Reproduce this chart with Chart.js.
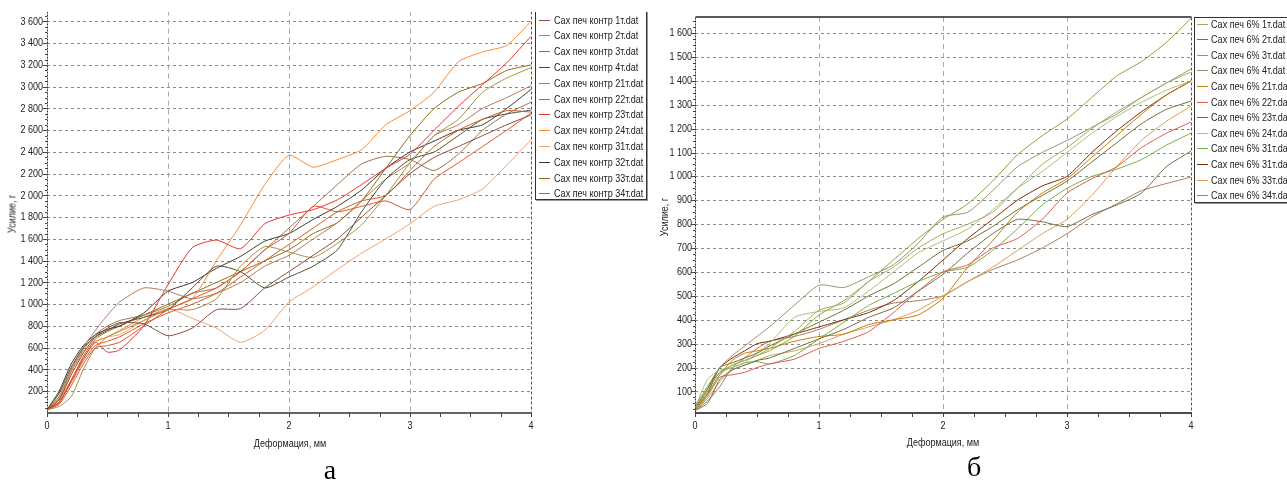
<!DOCTYPE html>
<html>
<head>
<meta charset="utf-8">
<script src="https://cdn.jsdelivr.net/npm/chart.js@4/dist/chart.umd.min.js"></script>
<style>
  html, body { margin: 0; padding: 0; background: #fff; }
  body { width: 1287px; height: 486px; overflow: hidden; position: relative; }
  canvas { position: absolute; }
  .txt { position: absolute; font-family: 'Liberation Sans', Arial, sans-serif;
         font-size: 11px; color: #222; white-space: nowrap; line-height: 1; }
  .ytitle { transform: translate(-50%, -50%) rotate(-90deg) scaleX(0.82); }
  .xtitle { transform: translate(-50%, -50%) scaleX(0.82); }
  .legend { position: absolute; background: #fff; border: 1px solid #333; box-shadow: 1px 1px 0 #999; overflow: hidden; }
  .legend .sw { position: absolute; width: 11px; height: 0; border-top: 1px solid; }
  .legend .nm { position: absolute; transform-origin: 0 50%; transform: translateY(-50%) scaleX(0.82); }
  .cap { position: absolute; font-family: 'Liberation Serif', 'DejaVu Serif', serif; font-size: 28px; color: #000;
         transform: translate(-50%, -50%); line-height: 1; }
  .cover { position: absolute; left: 0; top: 0; width: 650px; height: 12px; background: #fff; z-index: 5; }
</style>
</head>
<body>
<canvas id="chartA" width="540" height="460" style="left:0;top:0"></canvas>
<canvas id="chartB" width="550" height="460" style="left:650px;top:0"></canvas>

<script>
// Deformation (mm) sample points shared by every curve
const xs = [0, 0.1, 0.2, 0.3, 0.4, 0.5, 0.6, 0.8, 1.0, 1.2, 1.4, 1.6, 1.8, 2.0, 2.2, 2.4, 2.6, 2.8, 3.0, 3.2, 3.4, 3.6, 3.8, 4.0];

// --- control samples, force in g ---
const ctrl1  = [30, 120, 350, 550, 700, 780, 830, 820, 710, 780, 950, 960, 1150, 1300, 1450, 1600, 1800, 2000, 2200, 2350, 2450, 2550, 2650, 2740];
const ctrl2  = [30, 60, 150, 400, 600, 700, 750, 850, 950, 950, 1050, 1350, 1530, 1480, 1430, 1560, 1730, 2000, 2300, 2550, 2700, 2950, 3080, 3175];
const ctrl3  = [30, 100, 280, 480, 620, 660, 700, 820, 920, 1000, 1100, 1250, 1400, 1550, 1700, 1850, 1950, 2000, 2230, 2450, 2600, 2700, 2780, 2767];
const ctrl4  = [30, 180, 420, 600, 700, 760, 820, 880, 950, 1150, 1350, 1300, 1150, 1250, 1350, 1500, 1850, 2150, 2330, 2400, 2550, 2700, 2750, 2785];
const ctrl21 = [30, 150, 400, 600, 760, 900, 1020, 1150, 1120, 1050, 1100, 1200, 1350, 1450, 1600, 1750, 1950, 2150, 2300, 2550, 2650, 2800, 2900, 3010];
const ctrl22 = [30, 80, 250, 450, 600, 620, 650, 800, 950, 1050, 1150, 1300, 1500, 1650, 1900, 1850, 1900, 1950, 1870, 2150, 2300, 2450, 2600, 2757];
const ctrl23 = [30, 100, 300, 500, 650, 560, 580, 800, 1180, 1520, 1590, 1510, 1740, 1820, 1870, 1960, 2100, 2250, 2380, 2600, 2820, 3020, 3220, 3463];
const ctrl24 = [30, 150, 380, 560, 660, 700, 760, 880, 960, 1050, 1400, 1730, 2100, 2370, 2260, 2330, 2420, 2650, 2780, 2950, 3230, 3320, 3380, 3600];
const ctrl31 = [30, 120, 300, 500, 650, 700, 720, 850, 960, 870, 780, 650, 760, 1020, 1160, 1320, 1470, 1600, 1740, 1900, 1960, 2060, 2280, 2510];
const ctrl32 = [30, 200, 450, 620, 720, 770, 800, 920, 1120, 1200, 1330, 1440, 1580, 1650, 1780, 1900, 2050, 2250, 2400, 2500, 2600, 2650, 2800, 2975];
const ctrl33 = [30, 90, 300, 520, 680, 750, 800, 900, 1000, 1100, 1200, 1300, 1400, 1500, 1650, 1750, 1950, 2250, 2550, 2800, 2950, 3030, 3150, 3200];
const ctrl34 = [30, 130, 380, 580, 720, 800, 850, 900, 980, 1100, 1150, 1300, 1500, 1700, 1900, 2100, 2290, 2360, 2330, 2230, 2380, 2600, 2750, 2857];

const ctrlNames = ['Сах печ контр 1т.dat', 'Сах печ контр 2т.dat', 'Сах печ контр 3т.dat', 'Сах печ контр 4т.dat',
                   'Сах печ контр 21т.dat', 'Сах печ контр 22т.dat', 'Сах печ контр 23т.dat', 'Сах печ контр 24т.dat',
                   'Сах печ контр 31т.dat', 'Сах печ контр 32т.dat', 'Сах печ контр 33т.dat', 'Сах печ контр 34т.dat'];
const ctrlColors = ['#8B4A3A', '#A89040', '#D2591E', '#4F4F34', '#B5785A', '#E8502A',
                    '#F03030', '#FF8A30', '#F4A070', '#3A3A30', '#8C7010', '#A0704A'];
const ctrlSeries = [ctrl1, ctrl2, ctrl3, ctrl4, ctrl21, ctrl22, ctrl23, ctrl24, ctrl31, ctrl32, ctrl33, ctrl34];

// --- 6% samples, force in g ---
const s6_1   = [20, 80, 170, 210, 230, 250, 280, 350, 440, 470, 560, 620, 700, 760, 800, 850, 950, 1050, 1120, 1200, 1270, 1330, 1390, 1437];
const s6_2   = [20, 50, 150, 190, 210, 230, 240, 280, 320, 360, 410, 450, 520, 590, 680, 760, 820, 810, 790, 840, 880, 930, 1040, 1106];
const s6_3   = [20, 110, 180, 210, 230, 250, 270, 330, 420, 480, 560, 650, 740, 820, 885, 980, 1090, 1170, 1240, 1330, 1420, 1480, 1560, 1661];
const s6_4   = [40, 120, 200, 250, 290, 330, 370, 460, 545, 535, 580, 630, 720, 830, 850, 940, 1040, 1100, 1150, 1205, 1260, 1330, 1390, 1449];
const s6_21  = [20, 90, 170, 230, 260, 270, 280, 310, 330, 340, 380, 400, 420, 490, 620, 730, 850, 930, 990, 1080, 1170, 1260, 1340, 1399];
const s6_22  = [20, 80, 160, 170, 180, 200, 215, 235, 280, 310, 350, 430, 520, 600, 630, 700, 740, 820, 930, 990, 1040, 1120, 1180, 1227];
const s6_23  = [20, 90, 200, 220, 240, 260, 290, 340, 390, 440, 500, 550, 620, 690, 730, 790, 860, 920, 980, 1060, 1140, 1220, 1280, 1315];
const s6_24  = [30, 150, 190, 200, 220, 260, 300, 410, 435, 450, 520, 600, 680, 730, 780, 860, 950, 1020, 1100, 1180, 1250, 1310, 1360, 1399];
const s6_31a = [20, 100, 180, 200, 220, 225, 215, 250, 320, 390, 460, 510, 560, 600, 620, 690, 780, 880, 950, 1000, 1030, 1070, 1130, 1181];
const s6_31b = [30, 110, 200, 240, 270, 300, 310, 340, 370, 400, 430, 480, 560, 650, 740, 820, 900, 960, 1000, 1100, 1190, 1270, 1340, 1399];
const s6_33  = [20, 70, 140, 190, 210, 230, 250, 270, 300, 340, 370, 400, 440, 500, 560, 620, 690, 760, 820, 920, 1040, 1150, 1230, 1294];
const s6_34  = [20, 60, 120, 200, 240, 280, 310, 330, 360, 400, 440, 470, 480, 500, 560, 610, 650, 700, 760, 830, 885, 940, 970, 997];

const s6Names = ['Сах печ 6% 1т.dat', 'Сах печ 6% 2т.dat', 'Сах печ 6% 3т.dat', 'Сах печ 6% 4т.dat',
                 'Сах печ 6% 21т.dat', 'Сах печ 6% 22т.dat', 'Сах печ 6% 23т.dat', 'Сах печ 6% 24т.dat',
                 'Сах печ 6% 31т.dat', 'Сах печ 6% 31т.dat', 'Сах печ 6% 33т.dat', 'Сах печ 6% 34т.dat'];
const s6Colors = ['#A8A860', '#6E6E48', '#7FA83A', '#A08C70', '#CC7A00', '#E05A50',
                  '#6E6E30', '#A8C078', '#72B040', '#7A2A00', '#D4A050', '#B07A5A'];
const s6Series = [s6_1, s6_2, s6_3, s6_4, s6_21, s6_22, s6_23, s6_24, s6_31a, s6_31b, s6_33, s6_34];

// tick values
const xTicks = [0, 1, 2, 3, 4];
const yTicksA = [200, 400, 600, 800, 1000, 1200, 1400, 1600, 1800, 2000, 2200, 2400, 2600, 2800, 3000, 3200, 3400, 3600];
const yTicksB = [100, 200, 300, 400, 500, 600, 700, 800, 900, 1000, 1100, 1200, 1300, 1400, 1500, 1600];

const FONT = "'Liberation Sans', Arial, sans-serif";
const SQUEEZE = 0.82;   // narrow-face look for the canvas labels
const fmt = v => String(v).replace(/\B(?=(\d{3})+(?!\d))/g, ' ');

// draws every canvas label horizontally condensed around its anchor point
const condensePlugin = {
  id: 'condense',
  beforeInit(chart) {
    const ctx = chart.ctx;
    const plain = ctx.fillText.bind(ctx);
    ctx.fillText = function (t, x, y) {
      ctx.save();
      ctx.translate(x, y);
      ctx.scale(SQUEEZE, 1);
      plain(t, 0, 0);
      ctx.restore();
    };
  }
};

// grid, axis lines and tick marks drawn against the chart scales
const framePlugin = {
  id: 'frame',
  beforeDatasetsDraw(chart, args, o) {
    const { ctx, chartArea: a, scales: { x, y } } = chart;
    ctx.save();
    ctx.lineWidth = 1;
    ctx.strokeStyle = o.hGrid;
    ctx.setLineDash([3, 3]);
    for (const v of o.yTicks) {
      const py = Math.round(y.getPixelForValue(v)) + 0.5;
      ctx.beginPath(); ctx.moveTo(a.left, py); ctx.lineTo(a.right, py); ctx.stroke();
    }
    ctx.strokeStyle = o.vGrid;
    ctx.setLineDash([5, 4]);
    for (const v of o.xTicks) {
      if (v <= x.min || v >= x.max) continue;
      const px = Math.round(x.getPixelForValue(v)) + 0.5;
      ctx.beginPath(); ctx.moveTo(px, a.top); ctx.lineTo(px, a.bottom); ctx.stroke();
    }
    ctx.restore();
  },
  afterDatasetsDraw(chart, args, o) {
    const { ctx, chartArea: a, scales: { x, y } } = chart;
    const L = Math.round(a.left) + 0.5, R = Math.round(a.right) + 0.5;
    const T = Math.round(a.top) + 0.5, B = Math.round(a.bottom) + 0.5;
    ctx.save();
    // right border
    ctx.strokeStyle = '#555'; ctx.lineWidth = 1; ctx.setLineDash([3, 2]);
    ctx.beginPath(); ctx.moveTo(R, T); ctx.lineTo(R, B); ctx.stroke();
    // y axis
    ctx.strokeStyle = '#333'; ctx.setLineDash([2, 1]);
    ctx.beginPath(); ctx.moveTo(L, T); ctx.lineTo(L, B); ctx.stroke();
    ctx.setLineDash([]);
    // top border
    if (o.top) {
      ctx.strokeStyle = '#222'; ctx.lineWidth = 1.5;
      ctx.beginPath(); ctx.moveTo(L, a.top); ctx.lineTo(R, a.top); ctx.stroke();
    }
    // x axis
    ctx.strokeStyle = o.axisColor; ctx.lineWidth = o.axisWidth;
    ctx.beginPath(); ctx.moveTo(a.left, a.bottom); ctx.lineTo(a.right + 1, a.bottom); ctx.stroke();
    // tick marks
    ctx.lineWidth = 1; ctx.strokeStyle = '#444';
    for (let v = x.min; v <= x.max + 1e-9; v += o.xMinor) {
      const px = Math.round(x.getPixelForValue(v)) + 0.5;
      ctx.beginPath(); ctx.moveTo(px, a.bottom); ctx.lineTo(px, a.bottom + 4); ctx.stroke();
    }
    for (let v = o.yMinor; v <= y.max; v += o.yMinor) {
      if (v < y.min) continue;
      const py = Math.round(y.getPixelForValue(v)) + 0.5;
      const major = o.yTicks.includes(v);
      ctx.beginPath(); ctx.moveTo(a.left - (major ? 4 : 2), py); ctx.lineTo(a.left, py); ctx.stroke();
    }
    ctx.restore();
  }
};

function buildChart(id, series, colors, names, opt) {
  const datasets = series.map((vals, i) => ({
    label: names[i],
    data: vals.map((v, k) => ({ x: xs[k], y: v })),
    borderColor: colors[i],
    borderWidth: 1,
    pointRadius: 0,
    tension: 0.2,
    fill: false
  }));
  const tickFont = { family: FONT, size: 11 };
  return new Chart(document.getElementById(id), {
    type: 'line',
    data: { datasets },
    plugins: [condensePlugin, framePlugin],
    options: {
      responsive: false,
      animation: false,
      layout: { padding: opt.padding },
      plugins: {
        legend: { display: false },
        tooltip: { enabled: false },
        frame: opt.frame
      },
      scales: {
        x: {
          type: 'linear', min: 0, max: 4,
          afterBuildTicks: s => { s.ticks = xTicks.map(v => ({ value: v })); },
          afterFit: s => { s.height = 47; },
          grid: { display: false, drawTicks: false }, border: { display: false },
          ticks: { padding: 6, font: tickFont, color: '#222', maxRotation: 0, autoSkip: false }
        },
        y: {
          type: 'linear', min: opt.yMin, max: opt.yMax,
          afterBuildTicks: s => { s.ticks = opt.frame.yTicks.map(v => ({ value: v })); },
          afterFit: s => { s.width = opt.yWidth; },
          grid: { display: false, drawTicks: false }, border: { display: false },
          ticks: { padding: opt.yPad, font: tickFont, color: '#222', autoSkip: false, callback: v => fmt(v) }
        }
      }
    }
  });
}

buildChart('chartA', ctrlSeries, ctrlColors, ctrlNames, {
  padding: { left: 0, right: 7, top: 5, bottom: 0 },
  yMin: 0, yMax: 3700, yWidth: 47, yPad: 4,
  frame: { xTicks, yTicks: yTicksA, xMinor: 0.25, yMinor: 50, hGrid: '#8a8a8a', vGrid: '#a8a8a8',
           axisColor: '#666', axisWidth: 2, top: false }
});

buildChart('chartB', s6Series, s6Colors, s6Names, {
  padding: { left: 0, right: 8, top: 17, bottom: 0 },
  yMin: 10, yMax: 1667, yWidth: 45, yPad: 3,
  frame: { xTicks, yTicks: yTicksB, xMinor: 0.25, yMinor: 25, hGrid: '#8a8a8a', vGrid: '#a8a8a8',
           axisColor: '#111', axisWidth: 1.5, top: true }
});

// legends, axis titles and panel letters
function addDiv(cls, text, style) {
  const d = document.createElement('div');
  d.className = cls;
  if (text) d.textContent = text;
  Object.assign(d.style, style);
  document.body.appendChild(d);
  return d;
}

function legend(names, colors, box) {
  const lg = addDiv('legend', '', { left: box.left + 'px', top: box.top + 'px', width: box.width + 'px', height: box.height + 'px' });
  names.forEach((n, i) => {
    const cy = box.first + box.step * i - box.top;
    const sw = document.createElement('div');
    sw.className = 'sw';
    Object.assign(sw.style, { left: box.sw + 'px', top: Math.round(cy) + 'px', borderTopColor: colors[i] });
    lg.appendChild(sw);
    const t = document.createElement('div');
    t.className = 'txt nm';
    t.textContent = n;
    Object.assign(t.style, { left: box.tx + 'px', top: cy + 'px' });
    lg.appendChild(t);
  });
}

legend(ctrlNames, ctrlColors, { left: 535, top: 4, width: 110, height: 194, first: 18.5, step: 15.8, sw: 3, tx: 18 });
legend(s6Names, s6Colors, { left: 1194, top: 17, width: 110, height: 184, first: 22.5, step: 15.6, sw: 2, tx: 16 });

addDiv('txt xtitle', 'Деформация, мм', { left: '290px', top: '443px' });
addDiv('txt xtitle', 'Деформация, мм', { left: '943px', top: '442px' });
addDiv('txt ytitle', 'Усилие, г', { left: '12px', top: '214px' });
addDiv('txt ytitle', 'Усилие, г', { left: '664px', top: '217px' });
addDiv('cap', 'а', { left: '330px', top: '470px' });
addDiv('cap', 'б', { left: '974px', top: '467px' });
addDiv('cover', '', {});
</script>
</body>
</html>
